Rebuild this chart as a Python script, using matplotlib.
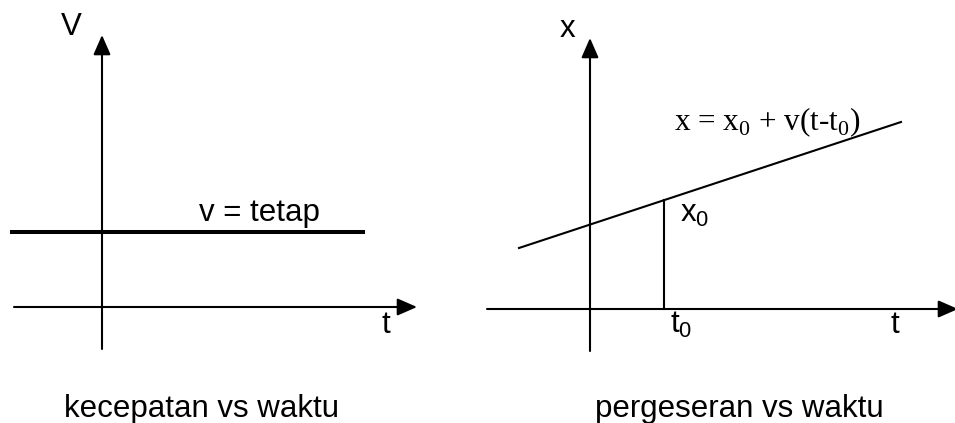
import matplotlib
matplotlib.use("Agg")
import matplotlib.pyplot as plt
from matplotlib.patches import ArrowStyle

plt.rcParams["font.family"] = ["Liberation Sans", "DejaVu Sans"]
plt.rcParams["mathtext.fontset"] = "custom"
plt.rcParams["mathtext.rm"] = "Liberation Serif"
plt.rcParams["mathtext.sf"] = "Liberation Sans"

# left diagram: velocity vs time (diagram units, origin at axes crossing)
v_t_axis = [-1.76, 6.30]
v_v_axis = [-0.84, 5.44]
v_level = 1.5
v_line_t = [-1.84, 5.26]

# right diagram: displacement vs time
x_t_axis = [-2.06, 7.36]
x_x_axis = [-0.84, 5.42]
line_t = [-1.42, 6.22]
line_x = [1.22, 3.74]
t0 = 1.48
x0 = 2.18

SERIF = "Liberation Serif"
FS = 22.5
head = ArrowStyle("-|>", head_length=0.8, head_width=0.35)


def axis_arrow(ax, start, end):
    # tip of the right-hand t axis sits past the figure edge, so no clipping
    ax.annotate("", xy=end, xytext=start, annotation_clip=False,
                arrowprops=dict(arrowstyle=head, mutation_scale=15, lw=1.5,
                                color="black", shrinkA=0, shrinkB=0))


fig = plt.figure(figsize=(9.55, 4.23), dpi=100)
ax1 = fig.add_axes([0, 0, 477 / 955, 1])
ax2 = fig.add_axes([477 / 955, 0, 478 / 955, 1])
ax1.set_xlim(-2.04, 7.5); ax1.set_ylim(-2.32, 6.14)
ax2.set_xlim(-2.26, 7.3); ax2.set_ylim(-2.28, 6.18)
for ax in (ax1, ax2):
    ax.set_axis_off()

# left panel
axis_arrow(ax1, (v_t_axis[0], 0), (v_t_axis[1], 0))
axis_arrow(ax1, (0, v_v_axis[0]), (0, v_v_axis[1]))
ax1.plot(v_line_t, [v_level, v_level], color="black", lw=2.9, solid_capstyle="butt")
ax1.text(-0.62, 5.44, "V", fontsize=FS, ha="center", va="baseline")
ax1.text(1.94, 1.72, "v = tetap", fontsize=FS, ha="left", va="baseline")
ax1.text(5.68, -0.52, "t", fontsize=FS, ha="center", va="baseline")
ax1.text(1.98, -2.2, "kecepatan vs waktu", fontsize=FS, ha="center", va="baseline")

# right panel
axis_arrow(ax2, (x_t_axis[0], 0), (x_t_axis[1], 0))
axis_arrow(ax2, (0, x_x_axis[0]), (0, x_x_axis[1]))
ax2.plot(line_t, line_x, color="black", lw=1.5)
ax2.plot([t0, t0], [0, x0], color="black", lw=1.5)
ax2.text(-0.46, 5.44, "x", fontsize=FS, ha="center", va="baseline")
ax2.text(1.8, 1.74, r"x$_\mathsf{0}$", fontsize=FS, ha="left", va="baseline")
ax2.text(1.6, -0.48, r"t$_\mathsf{0}$", fontsize=FS, ha="left", va="baseline")
ax2.text(6.1, -0.48, "t", fontsize=FS, ha="center", va="baseline")
ax2.text(1.68, 3.58, r"x = x$_0$ + v(t-t$_0$)", fontsize=FS, family=SERIF,
         ha="left", va="baseline")
ax2.text(2.98, -2.16, "pergeseran vs waktu", fontsize=FS, ha="center", va="baseline")

fig.savefig("out.png", dpi=100)
